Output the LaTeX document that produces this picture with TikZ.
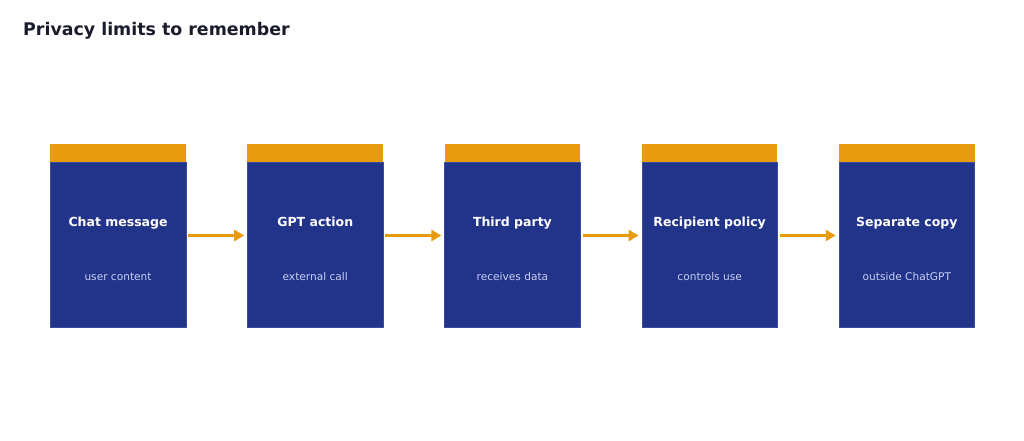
\documentclass[tikz,border=0pt]{standalone}
\usepackage{fontspec}
\setmainfont{DejaVu Sans}
\usetikzlibrary{arrows.meta}
\definecolor{navy}{HTML}{22338A}
\definecolor{navyedge}{HTML}{3A4BA6}
\definecolor{amber}{HTML}{E89B0C}
\definecolor{titleink}{HTML}{1A1C2C}
\definecolor{subink}{HTML}{C9CFF2}
\begin{document}
\begin{tikzpicture}[x=1pt,y=-1pt,
  card/.style={draw=navyedge,line width=0.6pt,fill=navy,minimum width=135.5pt,minimum height=165pt,inner sep=0pt,anchor=north west},
  topbar/.style={fill=amber,minimum width=135.5pt,minimum height=18pt,inner sep=0pt,anchor=south west},
  head/.style={text=white,anchor=base,inner sep=0pt,font=\bfseries\fontsize{12.5}{15}\selectfont},
  sub/.style={text=subink,anchor=base,inner sep=0pt,font=\fontsize{10.6}{12}\selectfont},
  flow/.style={draw=amber,line width=2.8pt,-{Triangle[length=10pt,width=11pt]}}]
\useasboundingbox (0,0) rectangle (1024,441);
\node[anchor=base west,text=titleink,font=\bfseries\fontsize{17.4}{21}\selectfont,inner sep=0pt] (title) at (23,36) {Privacy limits to remember};
\foreach \i/\h/\s in {1/Chat message/user content,2/GPT action/external call,3/Third party/receives data,4/Recipient policy/controls use,5/Separate copy/outside ChatGPT}{
  \node[card] (b\i) at ({50+197.2*(\i-1)},162) {};
  \node[topbar] (c\i) at (b\i.north west) {};
  \node[head] (h\i) at ([yshift=-64.5pt]b\i.north) {\h};
  \node[sub] (s\i) at ([yshift=-118.5pt]b\i.north) {\s};
}
\foreach \a/\b in {1/2,2/3,3/4,4/5}{
  \draw[flow] ([xshift=2pt,yshift=-73.5pt]b\a.north east) -- ([xshift=-3pt,yshift=-73.5pt]b\b.north west);
}
\end{tikzpicture}
\end{document}
